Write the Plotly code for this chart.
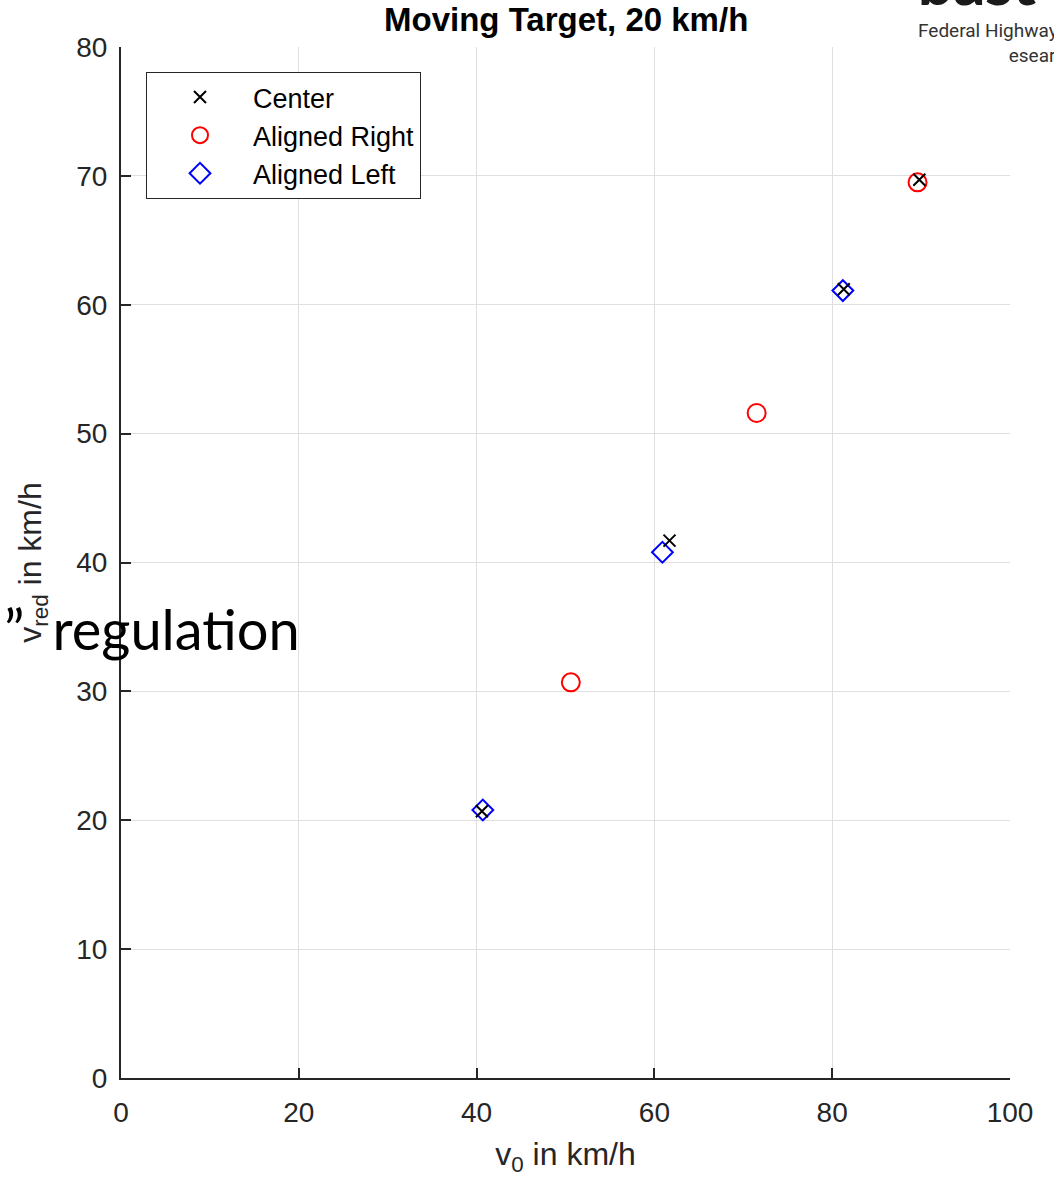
import plotly.graph_objects as go

# ---- data ----
center_x = [40.6, 61.7, 81.3, 89.8]
center_y = [20.7, 41.7, 61.2, 69.7]
right_x = [50.6, 71.5, 89.6]
right_y = [30.7, 51.6, 69.5]
left_x = [40.7, 60.9, 81.2]
left_y = [20.8, 40.8, 61.1]

x_ticks = [0, 20, 40, 60, 80, 100]
y_ticks = [0, 10, 20, 30, 40, 50, 60, 70, 80]

W, H = 1054, 1181
L, R, T, B = 121, 44, 47, 103
PW, PH = W - L - R, H - T - B


def px(p):
    return (p - L) / PW


def py(p):
    return (H - B - p) / PH


AX = "#262626"
FONT = "Liberation Sans, Arial, sans-serif"

fig = go.Figure()
fig.add_trace(go.Scatter(
    x=right_x, y=right_y, mode="markers", name="Aligned Right",
    legendgroup="r", legendrank=2,
    marker=dict(symbol="circle-open", size=18, color="#ff0000",
                line=dict(width=2, color="#ff0000"))))
fig.add_trace(go.Scatter(
    x=left_x, y=left_y, mode="markers", name="Aligned Left",
    legendgroup="l", legendrank=3,
    marker=dict(symbol="diamond-open", size=16, color="#0000ff",
                line=dict(width=2, color="#0000ff"))))
fig.add_trace(go.Scatter(
    x=center_x, y=center_y, mode="markers", name="Center",
    legendgroup="c", legendrank=1,
    marker=dict(symbol="x-thin-open", size=12, color="#000000",
                line=dict(width=2, color="#000000"))))

axis_common = dict(
    showgrid=True, gridcolor="#dfdfdf", gridwidth=1,
    showline=True, linecolor=AX, linewidth=2,
    ticks="inside", ticklen=10, tickwidth=1.5, tickcolor=AX,
    tickfont=dict(family=FONT, size=28, color=AX),
    zeroline=False, mirror=False,
)

fig.update_xaxes(range=[0, 100], tickvals=x_ticks, ticklabelstandoff=8,
                 title=dict(text="v<sub>0</sub> in km/h",
                            font=dict(family=FONT, size=32, color=AX),
                            standoff=16),
                 **axis_common)
fig.update_yaxes(range=[0, 80], tickvals=y_ticks, ticklabelstandoff=6,
                 title=dict(text="v<sub>red</sub> in km/h",
                            font=dict(family=FONT, size=32, color=AX),
                            standoff=25),
                 **axis_common)

annotations = [
    # logo remnants (top right)
    dict(text="bast", x=px(916), y=py(-19), xref="paper", yref="paper",
         xanchor="left", yanchor="middle", showarrow=False,
         font=dict(family="Lato, Inter, sans-serif", size=62, color="#1a1a1a",
                   weight=900)),
    dict(text="Federal Highway", x=px(916), y=py(31), xref="paper", yref="paper",
         xanchor="left", yanchor="middle", showarrow=False,
         font=dict(family="Roboto, sans-serif", size=19, color="#333333")),
    dict(text="Research Institute", x=px(995), y=py(55), xref="paper", yref="paper",
         xanchor="left", yanchor="middle", showarrow=False,
         font=dict(family="Roboto, sans-serif", size=19, color="#333333")),
    # white plot region covering part of the logo's second line
    dict(text=" ", x=px(1009), y=py(48), xref="paper", yref="paper",
         xanchor="right", yanchor="top", showarrow=False, width=110, height=22,
         bgcolor="white", borderpad=0, font=dict(size=10)),
    # title
    dict(text="<b>Moving Target, 20 km/h</b>", x=0.5, y=py(19), xref="paper",
         yref="paper", xanchor="center", yanchor="middle", showarrow=False,
         font=dict(family=FONT, size=33, color="#000000")),
    # overlaid slide text
    dict(text="\u201d\u2002regulation", x=px(302), y=py(628), xref="paper",
         yref="paper", xanchor="right", yanchor="middle", showarrow=False,
         font=dict(family="Lato, Carlito, sans-serif", size=56, color="#000000")),
]

fig.update_layout(
    width=W, height=H,
    margin=dict(l=L, r=R, t=T, b=B, pad=0),
    paper_bgcolor="white", plot_bgcolor="white",
    showlegend=True,
    legend=dict(x=px(146), y=py(72), xanchor="left", yanchor="top",
                bgcolor="white", bordercolor=AX, borderwidth=1,
                font=dict(family=FONT, size=27, color="#000000"),
                itemwidth=96, tracegroupgap=0, traceorder="grouped"),
    annotations=annotations,
)

fig.write_html(
    "out.html",
    config={"displayModeBar": False},
    post_script="document.body.style.margin='0';document.body.style.overflow='hidden';",
)
